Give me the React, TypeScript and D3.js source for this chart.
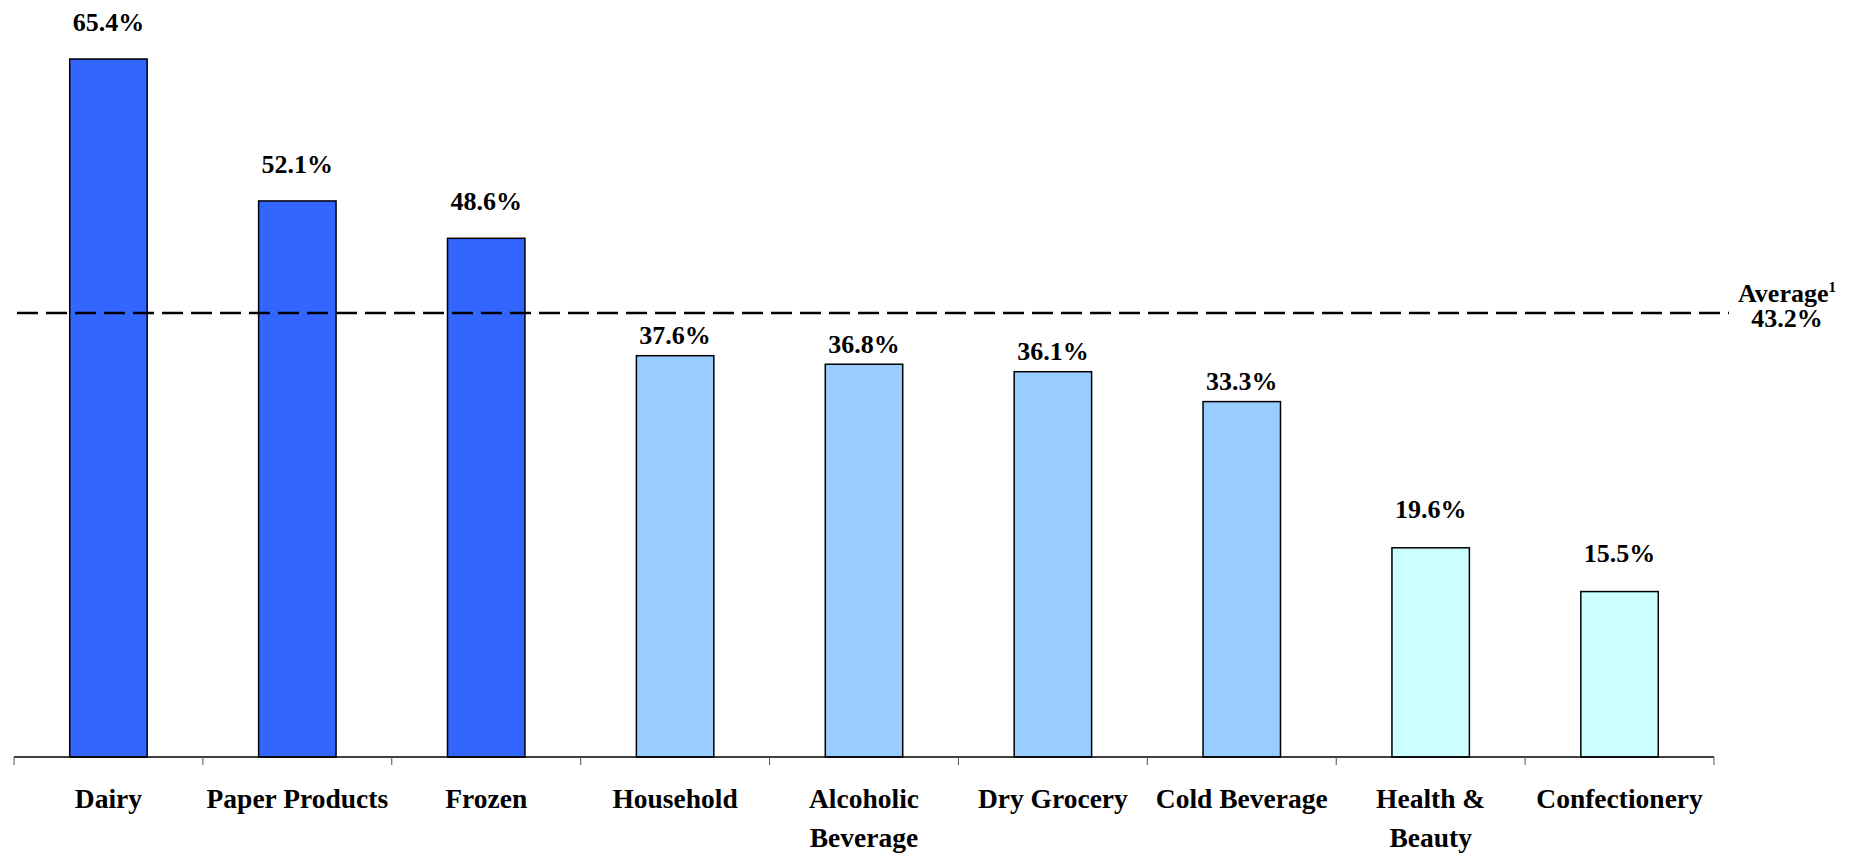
import React from "react";
import * as d3 from "d3";

const categories: string[][] = [
  ["Dairy"],
  ["Paper Products"],
  ["Frozen"],
  ["Household"],
  ["Alcoholic", "Beverage"],
  ["Dry Grocery"],
  ["Cold Beverage"],
  ["Health &", "Beauty"],
  ["Confectionery"],
];
const values: number[] = [65.4, 52.1, 48.6, 37.6, 36.8, 36.1, 33.3, 19.6, 15.5];
const groups: string[] = ["high", "high", "high", "mid", "mid", "mid", "mid", "low", "low"];
const averageLabel = 43.2;
const averageLineAt = 41.6;

const groupStyle: Record<string, { fill: string; labelGap: number }> = {
  high: { fill: "#3366FF", labelGap: 28 },
  mid: { fill: "#99CCFF", labelGap: 11.5 },
  low: { fill: "#CCFFFF", labelGap: 30 },
};

const W = 1863;
const H = 855;
const left = 14;
const right = 1714;
const baseline = 757;
const font = "'Liberation Serif', 'Times New Roman', serif";

export default function App() {
  const keys = categories.map((c) => c.join(" "));
  const x = d3.scaleBand<string>().domain(keys).range([left, right]).padding(0);
  const y = d3.scaleLinear().domain([0, 65.4]).range([baseline, 59]);
  const bw = x.bandwidth() * 0.41;
  const ticks = d3.range(keys.length + 1).map((i) => left + i * x.step());
  const avgY = y(averageLineAt);

  return (
    <svg
      width={W}
      height={H}
      style={{ position: "absolute", left: 0, top: 0, background: "#fff" }}
    >
      {keys.map((k, i) => {
        const cx = (x(k) as number) + x.bandwidth() / 2;
        const top = y(values[i]);
        const st = groupStyle[groups[i]];
        return (
          <g key={k}>
            <rect
              x={cx - bw / 2}
              y={top}
              width={bw}
              height={baseline - top}
              fill={st.fill}
              stroke="#000"
              strokeWidth={1.5}
            />
            <text
              x={cx}
              y={top - st.labelGap}
              textAnchor="middle"
              fontFamily={font}
              fontWeight="bold"
              fontSize={26}
              fill="#000"
            >
              {values[i].toFixed(1)}%
            </text>
            {categories[i].map((line, j) => (
              <text
                key={j}
                x={cx}
                y={808 + j * 39}
                textAnchor="middle"
                fontFamily={font}
                fontWeight="bold"
                fontSize={27.5}
                fill="#000"
              >
                {line}
              </text>
            ))}
          </g>
        );
      })}
      <line x1={left} x2={right} y1={baseline} y2={baseline} stroke="#000" strokeWidth={1.5} />
      {ticks.map((t, i) => (
        <line key={i} x1={t} x2={t} y1={baseline} y2={baseline + 8} stroke="#555" strokeWidth={1} />
      ))}
      <line
        x1={17}
        x2={1729}
        y1={avgY}
        y2={avgY}
        stroke="#000"
        strokeWidth={2.5}
        strokeDasharray="21 8"
      />
      <text x={1787} y={302} textAnchor="middle" fontFamily={font} fontWeight="bold" fontSize={26}>
        Average
        <tspan fontSize={15} dy={-10}>1</tspan>
      </text>
      <text x={1787} y={327} textAnchor="middle" fontFamily={font} fontWeight="bold" fontSize={26}>
        {averageLabel.toFixed(1)}%
      </text>
    </svg>
  );
}
